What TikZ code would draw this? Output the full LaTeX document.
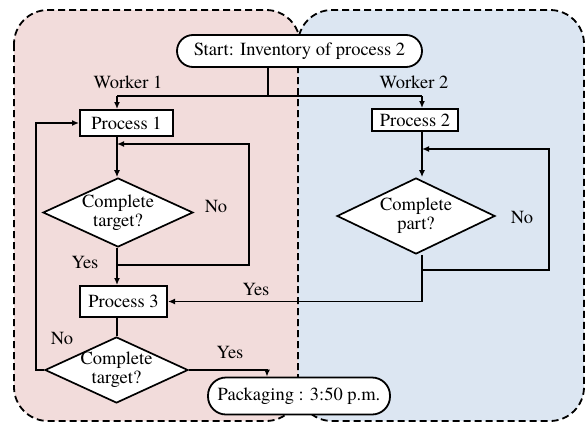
\documentclass[tikz,border=0pt]{standalone}
\usepackage{fontspec}
\setmainfont{texgyretermes}[Extension=.otf, UprightFont=*-regular, BoldFont=*-bold, ItalicFont=*-italic, BoldItalicFont=*-bolditalic]
\usepackage{tikz}
\usetikzlibrary{arrows.meta, shapes.geometric}
\definecolor{lanered}{RGB}{242,220,219}
\definecolor{laneblue}{RGB}{220,230,242}
\tikzstyle{lane}=[draw=black, line width=1.8pt, dash pattern=on 7pt off 4pt, rounded corners=34pt]
\tikzstyle{term}=[fill=white, draw=black, line width=1.8pt, shape=rectangle, rounded corners=16pt, inner sep=0pt]
\tikzstyle{proc}=[fill=white, draw=black, line width=2pt, shape=rectangle, inner sep=0pt]
\tikzstyle{dec}=[fill=white, draw=black, line width=1.7pt, shape=diamond, inner sep=-2pt, align=center]
\tikzstyle{arr}=[-{Latex[length=7pt,width=6pt]}]

\begin{document}
\begin{tikzpicture}[x=10pt, y=10pt, line width=1.7pt, font=\fontsize{18.5pt}{19pt}\selectfont]
	\useasboundingbox (0,0) rectangle (58.6,-42.6);

	% lanes
	\draw[style=lane, fill=lanered] (1.4,-1.0) rectangle (30.0,-42.1);
	\draw[style=lane, fill=laneblue] (29.8,-1.0) rectangle (58.4,-42.1);

	\node[style=term, minimum width=245pt, minimum height=32pt] (start) at (29.95,-5.1) {Start: Inventory of process 2};
	\node[style=proc, minimum width=93pt, minimum height=26pt] (p1) at (12.65,-12.3) {Process 1};
	\node[style=proc, minimum width=86pt, minimum height=22pt] (p2) at (41.5,-12.0) {Process 2};
	\node[style=dec, minimum width=150pt, minimum height=69pt, aspect=2.17] (d1) at (11.8,-21.25) {Complete\\target?};
	\node[style=dec, minimum width=158pt, minimum height=76pt, aspect=2.08] (d2) at (41.6,-21.6) {Complete\\part?};
	\node[style=proc, minimum width=87pt, minimum height=31pt] (p3) at (12.35,-30.15) {Process 3};
	\node[style=dec, minimum width=143pt, minimum height=66pt, aspect=2.17] (d3) at (11.65,-37.0) {Complete\\target?};
	\node[style=term, minimum width=182pt, minimum height=37pt, rounded corners=18pt] (pack) at (29.9,-39.6) {Packaging : 3:50 p.m.};

	\node (worker1) at (12.8,-8.2) {Worker 1};
	\node (worker2) at (41.4,-8.2) {Worker 2};
	\node (no1) at (21.6,-20.6) {No};
	\node (yes1) at (8.5,-26.2) {Yes};
	\node (no2) at (52.2,-21.7) {No};
	\node (yes2) at (25.6,-28.9) {Yes};
	\node (no3) at (6.2,-33.8) {No};
	\node (yes3) at (23.0,-35.2) {Yes};

	\coordinate (split) at (26.8,-9.6);
	\coordinate (tl) at (11.7,-9.6);
	\coordinate (tr) at (42.2,-9.6);
	\coordinate (n1a) at (11.7,-26.5);
	\coordinate (n1b) at (24.9,-14.4);
	\coordinate (n2a) at (42.2,-27.0);
	\coordinate (n2b) at (54.9,-14.9);
	\coordinate (n3) at (3.6,-37.0);
	\coordinate (y3) at (26.7,-37.0);

	\draw (start.south -| split) to (split);
	\draw (tl) to (tr);
	\draw[style=arr] (tl) to (p1.north -| tl);
	\draw[style=arr] (tr) to (p2.north -| tr);
	\draw[style=arr] (p1.south -| tl) to (d1.north -| tl);
	\draw[style=arr] (d1.south -| tl) to (p3.north -| tl);
	\draw[style=arr] (n1a) -| (n1b) -- (n1b -| tl);
	\draw[style=arr] (p2.south -| tr) to (d2.north -| tr);
	\draw[style=arr] (n2a) -| (n2b) -- (n2b -| tr);
	\draw[style=arr] (d2.south -| tr) |- (p3.east);
	\draw (p3.south -| tl) to (d3.north -| tl);
	\draw[style=arr] (d3.west) -- (n3) |- (p1.west);
	\draw[style=arr] (d3.east) -- (y3) -- (pack.north -| y3);
\end{tikzpicture}
\end{document}
